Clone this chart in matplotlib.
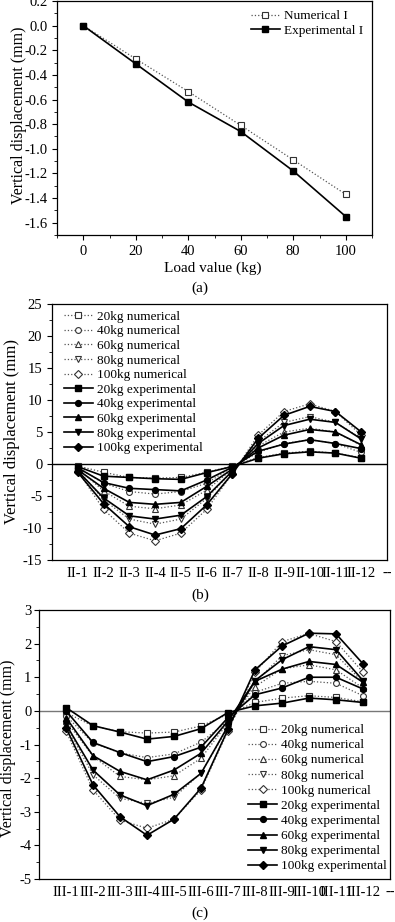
import matplotlib
matplotlib.use("Agg")
import matplotlib.pyplot as plt
from matplotlib.ticker import MultipleLocator

plt.rcParams["font.family"] = ["Liberation Serif", "DejaVu Serif"]
plt.rcParams["axes.unicode_minus"] = False

# (a) load vs displacement
load = [0, 20, 40, 60, 80, 100]
num_I = [0.0, -0.27, -0.535, -0.81, -1.09, -1.37]
exp_I = [0.0, -0.31, -0.62, -0.86, -1.18, -1.55]

# (b) measuring points II-1 ... II-12
loads = ["20kg", "40kg", "60kg", "80kg", "100kg"]
pts_b = ["II-%d" % i for i in range(1, 13)] + ["--"]
num_b = [
    [-0.3, -1.3, -2.1, -2.2, -2.1, -1.3, -0.3, 1.0, 1.7, 2.0, 1.7, 1.0],
    [-0.5, -3.0, -4.3, -4.7, -4.3, -3.0, -0.5, 1.8, 3.2, 3.8, 3.2, 1.8],
    [-0.7, -4.2, -6.6, -7.0, -6.4, -4.1, -0.8, 2.8, 5.0, 5.6, 5.0, 2.9],
    [-0.9, -5.6, -8.6, -9.4, -8.6, -5.4, -1.1, 3.5, 6.5, 7.4, 6.5, 4.0],
    [-1.1, -7.1, -10.8, -12.0, -10.8, -7.1, -1.5, 4.5, 8.2, 9.4, 8.2, 4.5],
]
exp_b = [
    [-0.4, -1.9, -2.1, -2.3, -2.4, -1.35, -0.4, 0.9, 1.6, 1.9, 1.7, 0.9],
    [-0.6, -2.9, -3.8, -4.0, -4.2, -2.5, -0.5, 2.0, 3.1, 3.8, 3.2, 2.4],
    [-0.9, -3.8, -6.0, -6.3, -6.0, -3.5, -0.8, 2.5, 4.5, 5.4, 5.0, 3.0],
    [-1.1, -5.3, -8.1, -8.6, -8.0, -5.1, -1.1, 3.2, 6.0, 7.0, 6.5, 3.9],
    [-1.3, -6.2, -9.8, -11.1, -10.1, -6.4, -1.5, 4.0, 7.6, 9.0, 8.2, 5.0],
]

# (c) measuring points III-1 ... III-12
pts_c = ["III-%d" % i for i in range(1, 13)] + ["--"]
num_c = [
    [-0.05, -0.45, -0.62, -0.66, -0.63, -0.45, -0.1, 0.25, 0.38, 0.45, 0.40, 0.27],
    [-0.15, -0.95, -1.25, -1.39, -1.28, -0.93, -0.3, 0.55, 0.82, 0.88, 0.82, 0.45],
    [-0.30, -1.35, -1.95, -2.05, -1.93, -1.41, -0.35, 0.72, 1.25, 1.37, 1.22, 0.68],
    [-0.45, -1.90, -2.60, -2.75, -2.57, -1.85, -0.5, 0.85, 1.64, 1.82, 1.67, 0.85],
    [-0.60, -2.35, -3.25, -3.49, -3.22, -2.35, -0.6, 1.15, 2.06, 2.30, 2.06, 1.15],
]
exp_c = [
    [0.10, -0.44, -0.63, -0.84, -0.76, -0.53, -0.05, 0.15, 0.23, 0.38, 0.33, 0.25],
    [0.00, -0.94, -1.24, -1.51, -1.36, -1.08, -0.2, 0.48, 0.68, 1.00, 1.00, 0.65],
    [-0.20, -1.33, -1.80, -2.05, -1.76, -1.26, -0.3, 0.88, 1.24, 1.47, 1.38, 0.85],
    [-0.40, -1.76, -2.50, -2.82, -2.48, -1.86, -0.45, 0.90, 1.52, 1.91, 1.82, 0.90],
    [-0.50, -2.20, -3.15, -3.70, -3.22, -2.30, -0.55, 1.22, 1.93, 2.31, 2.29, 1.40],
]

markers = ["s", "o", "^", "v", "D"]

fig = plt.figure(figsize=(3.95, 9.22), dpi=100)
W, H = 395.0, 922.0


def box(l, t, r, b):
    return [l / W, 1 - b / H, (r - l) / W, (b - t) / H]


def style(ax):
    ax.tick_params(which="both", direction="out", labelsize=10.5, top=False, right=False)
    ax.tick_params(which="major", length=3.5, width=0.8)
    ax.tick_params(which="minor", length=2, width=0.6)
    for s in ax.spines.values():
        s.set_linewidth(0.9)


num_kw = dict(color="#555555", ls=":", lw=0.9, ms=4.2, mfc="white", mec="#333333", mew=0.8)
exp_kw = dict(color="black", ls="-", lw=1.2, ms=4.2, mfc="black", mec="black")

# ---- (a)
ax1 = fig.add_axes(box(57, 1, 372, 235))
ax1.plot(load, num_I, marker="s", label="Numerical I", **num_kw)
ax1.plot(load, exp_I, marker="s", label="Experimental I", **exp_kw)
ax1.set_xlim(-10, 110)
ax1.set_ylim(-1.7, 0.2)
ax1.xaxis.set_major_locator(MultipleLocator(20))
ax1.xaxis.set_minor_locator(MultipleLocator(10))
ax1.yaxis.set_major_locator(MultipleLocator(0.2))
ax1.yaxis.set_minor_locator(MultipleLocator(0.1))
ax1.yaxis.set_major_formatter(plt.FuncFormatter(lambda v, p: ("%.1f" % v).replace("-0.0", "0.0")))
style(ax1)
ax1.legend(loc="upper right", frameon=False, fontsize=9.5, handlelength=2.2,
           handletextpad=0.3, labelspacing=0.15, borderaxespad=0.3)
fig.text(213 / W, 1 - 268 / H, "Load value (kg)", ha="center", va="center", fontsize=11)
fig.text(19 / W, 1 - 115 / H, "Vertical displacement (mm)", ha="center", va="center",
         rotation=90, fontsize=11.5)
fig.text(200 / W, 1 - 288 / H, "(a)", ha="center", va="center", fontsize=11)

# ---- (b)
ax2 = fig.add_axes(box(52, 304, 387, 560))
xb = list(range(1, 13))
for i, lab in enumerate(loads):
    ax2.plot(xb, num_b[i], marker=markers[i], label=lab + " numerical", **num_kw)
for i, lab in enumerate(loads):
    ax2.plot(xb, exp_b[i], marker=markers[i], label=lab + " experimental", **exp_kw)
ax2.axhline(0, color="black", lw=1.0, zorder=0)
ax2.set_xlim(0, 13)
ax2.set_ylim(-15, 25)
ax2.set_xticks(range(1, 14))
ax2.set_xticklabels(pts_b)
ax2.xaxis.set_minor_locator(MultipleLocator(0.5))
ax2.yaxis.set_major_locator(MultipleLocator(5))
ax2.yaxis.set_minor_locator(MultipleLocator(2.5))
style(ax2)
ax2.tick_params(axis="x", which="both", length=0, pad=5)
ax2.legend(loc="upper left", frameon=False, fontsize=9.5, handlelength=2.2,
           handletextpad=0.3, labelspacing=0.18, borderaxespad=0.1,
           bbox_to_anchor=(0.015, 1.0))
fig.text(12 / W, 1 - 432 / H, "Vertical displacement (mm)", ha="center", va="center",
         rotation=90, fontsize=12)
fig.text(200 / W, 1 - 595 / H, "(b)", ha="center", va="center", fontsize=11)

# ---- (c)
ax3 = fig.add_axes(box(39, 610, 390, 879))
xc = list(range(1, 13))
for i, lab in enumerate(loads):
    ax3.plot(xc, num_c[i], marker=markers[i], label=lab + " numerical", **num_kw)
for i, lab in enumerate(loads):
    ax3.plot(xc, exp_c[i], marker=markers[i], label=lab + " experimental", **exp_kw)
ax3.axhline(0, color="#777777", lw=1.0, zorder=0)
ax3.set_xlim(0, 13)
ax3.set_ylim(-5, 3)
ax3.set_xticks(range(1, 14))
ax3.set_xticklabels(pts_c)
ax3.xaxis.set_minor_locator(MultipleLocator(0.5))
ax3.yaxis.set_major_locator(MultipleLocator(1))
ax3.yaxis.set_minor_locator(MultipleLocator(0.5))
style(ax3)
ax3.tick_params(axis="x", which="both", length=0, pad=5)
ax3.tick_params(axis="y", which="major", pad=2)
ax3.legend(loc="lower right", frameon=False, fontsize=9.5, handlelength=2.2,
           handletextpad=0.3, labelspacing=0.22, borderaxespad=0.1,
           bbox_to_anchor=(1.01, 0.0))
fig.text(8 / W, 1 - 748 / H, "Vertical displacement (mm)", ha="center", va="center",
         rotation=90, fontsize=11.5)
fig.text(200 / W, 1 - 913 / H, "(c)", ha="center", va="center", fontsize=11)

fig.savefig("out.png", dpi=100)
